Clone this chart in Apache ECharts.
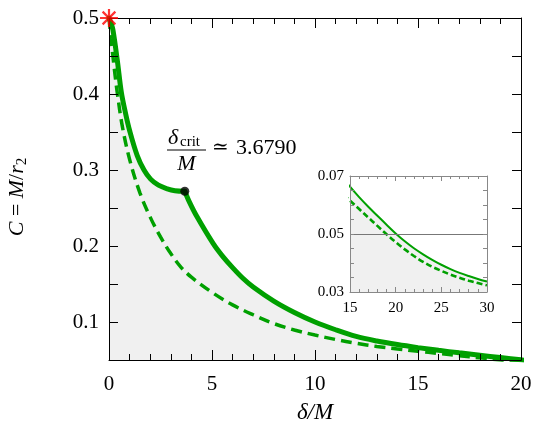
<!DOCTYPE html>
<html><head><meta charset="utf-8">
<script src="https://cdn.jsdelivr.net/npm/echarts@6/dist/echarts.min.js"></script>
<style>html,body{margin:0;padding:0;background:#fff}#c{width:540px;height:432px}</style>
</head><body><div id="c"></div>
<script>
// Solid curve, branch before the critical point
const solidA = [[0,0.5],[0.1,0.493],[0.19,0.4845],[0.4,0.445],[0.6,0.402],[0.8,0.375],[1.0,0.352],[1.37,0.319],[1.7,0.300],[2.02,0.288],[2.4,0.280],[2.83,0.2752],[3.2,0.2728],[3.679,0.272]];
// Solid curve, branch after the critical point
const solidB = [[3.679,0.272],[3.9,0.258],[4.26,0.239],[5.06,0.203],[5.5,0.187],[6.0,0.1715],[6.5,0.1575],[7.0,0.146],[8.0,0.1275],[9.0,0.1125],[10.0,0.100],[11.0,0.0898],[12.0,0.081],[13.0,0.075],[14.0,0.0703],[15.0,0.0663],[16.0,0.0627],[17.0,0.0594],[18.0,0.0563],[19.0,0.0532],[20.0,0.0502],[21,0.0475],[22,0.0451],[23,0.043],[24,0.0411],[25,0.0394],[26,0.0379],[27,0.0366],[28,0.0355],[29,0.0345],[30,0.0336]];
// Dashed curve
const dashed = [[0,0.5],[0.1,0.473],[0.25,0.435],[0.4,0.402],[0.65,0.357],[1.0,0.314],[1.5,0.270],[2.0,0.238],[2.5,0.212],[3.0,0.190],[3.5,0.172],[4.0,0.159],[5.0,0.139],[6.0,0.1225],[7.0,0.1095],[8.0,0.098],[9.0,0.0895],[10.0,0.0828],[11.0,0.077],[12.0,0.072],[13.0,0.0678],[14.0,0.0645],[15.0,0.0615],[16.0,0.0586],[17.0,0.0557],[18.0,0.0528],[19.0,0.0499],[20.0,0.0472],[21,0.0447],[22,0.0424],[23,0.0404],[24,0.0387],[25,0.0373],[26,0.036],[27,0.0349],[28,0.0339],[29,0.0331],[30,0.0323]];
const critPoint = [[3.679,0.272]];
const starPoint = [[0,0.5]];
const mainYLabels = [0.1,0.2,0.3,0.4,0.5];
const insetYLabels = [0.03,0.05,0.07];
const insetRef = 0.05;

const SERIF = '"Liberation Serif", "DejaVu Serif", serif';
const GREEN = '#00a000';
const SM = 0.35;
const chart = echarts.init(document.getElementById('c'), null, {renderer:'canvas'});

function mkX(grid, pos, min, max, interval, showLabel, color, tickLen, minorLen, fs, margin){
  return {type:'value', gridIndex:grid, position:pos, min:min, max:max, interval:interval, z:10,
    axisLine:{show:true, onZero:false, lineStyle:{color:color, width:1}},
    axisTick:{show:true, inside:true, length:tickLen, lineStyle:{color:color}},
    minorTick:{show:true, splitNumber:5, length:minorLen, lineStyle:{color:color}},
    splitLine:{show:false}, minorSplitLine:{show:false},
    axisLabel:{show:showLabel, fontFamily:SERIF, fontSize:fs, color:'#000', margin:margin}};
}
function mkY(grid, pos, min, max, interval, showLabel, color, tickLen, labels, fs, margin){
  return {type:'value', gridIndex:grid, position:pos, min:min, max:max, interval:interval, z:10,
    axisLine:{show:true, onZero:false, lineStyle:{color:color, width:1}},
    axisTick:{show:true, inside:true, length:tickLen, lineStyle:{color:color}},
    splitLine:{show:false},
    axisLabel:{show:showLabel, fontFamily:SERIF, fontSize:fs, color:'#000', margin:margin,
      formatter:function(v){
        for (const l of labels){ if (Math.abs(v-l)<1e-6) return String(l); }
        return '';
      }}};
}

const option = {
  animation:false,
  backgroundColor:'#fff',
  grid:[
    {left:109, top:18, width:412, height:342},
    {left:350, top:176, width:137, height:116}
  ],
  xAxis:[
    mkX(0,'bottom',0,20,5,true,'#000',10,6,21,14),
    mkX(0,'top',0,20,5,false,'#000',10,6,21,14),
    mkX(1,'bottom',15,30,5,true,'#888',5,3,15,9),
    mkX(1,'top',15,30,5,false,'#888',5,3,15,9)
  ],
  yAxis:[
    mkY(0,'left',0.05,0.5,0.05,true,'#000',9,mainYLabels,21,10),
    mkY(0,'right',0.05,0.5,0.05,false,'#000',9,mainYLabels,21,10),
    mkY(1,'left',0.03,0.07,0.005,true,'#888',4,insetYLabels,15,6),
    mkY(1,'right',0.03,0.07,0.005,false,'#888',4,insetYLabels,15,6)
  ],
  series:[
    {type:'line', xAxisIndex:0, yAxisIndex:0, data:solidA.concat(solidB.slice(1)), smooth:SM,
      showSymbol:false, symbol:'none', lineStyle:{width:0}, areaStyle:{color:'#f0f0f0', origin:'start', opacity:1}, z:1, silent:true},
    {type:'line', xAxisIndex:0, yAxisIndex:0, data:dashed, smooth:SM, symbol:'none',
      lineStyle:{color:GREEN, width:3.5, type:[11,6]}, z:3},
    {type:'line', xAxisIndex:0, yAxisIndex:0, data:solidA, smooth:SM, symbol:'none',
      lineStyle:{color:GREEN, width:5, cap:'round'}, z:4},
    {type:'line', xAxisIndex:0, yAxisIndex:0, data:solidB, smooth:SM, symbol:'none',
      lineStyle:{color:GREEN, width:5, cap:'round'}, z:4},
    {type:'scatter', xAxisIndex:0, yAxisIndex:0, data:critPoint, symbol:'circle', symbolSize:9,
      itemStyle:{color:'#000'}, z:6},
    {type:'scatter', xAxisIndex:0, yAxisIndex:0, data:starPoint, clip:false,
      symbol:'path://M10,0L10,20M0,10L20,10M2.9,2.9L17.1,17.1M2.9,17.1L17.1,2.9', symbolSize:18,
      itemStyle:{color:'none', borderColor:'#ff0000', borderWidth:2.2}, z:12},
    // inset
    {type:'line', xAxisIndex:2, yAxisIndex:2, data:solidB, smooth:SM,
      symbol:'none', lineStyle:{width:0}, areaStyle:{color:'#f0f0f0', origin:'start', opacity:1}, z:1, silent:true,
      markLine:{silent:true, symbol:'none', label:{show:false}, lineStyle:{color:'#777', width:1, type:'solid'},
        data:[{yAxis:insetRef}]}},
    {type:'line', xAxisIndex:2, yAxisIndex:2, data:dashed, smooth:SM, symbol:'none',
      lineStyle:{color:GREEN, width:2.6, type:[6,3]}, z:3},
    {type:'line', xAxisIndex:2, yAxisIndex:2, data:solidB, smooth:SM, symbol:'none',
      lineStyle:{color:GREEN, width:2}, z:4}
  ],
  graphic:[
    {type:'text', x:17, y:197, rotation:Math.PI/2,
      style:{text:'{i|C}{n| = }{i|M}{n|/}{i|r}{s|2}', align:'center', verticalAlign:'middle',
        rich:{i:{fontFamily:SERIF, fontStyle:'italic', fontSize:22, fill:'#000'},
              n:{fontFamily:SERIF, fontSize:22, fill:'#000'},
              s:{fontFamily:SERIF, fontSize:15, fill:'#000', padding:[10,0,0,0]}}}},
    {type:'text', x:315, y:413,
      style:{text:'δ/M', fontFamily:SERIF, fontStyle:'italic', fontSize:23, fill:'#000', align:'center', verticalAlign:'middle'}},
    {type:'text', x:168, y:138,
      style:{text:'δ', fontFamily:SERIF, fontStyle:'italic', fontSize:22, fill:'#000', align:'left', verticalAlign:'middle'}},
    {type:'text', x:180, y:142,
      style:{text:'crit', fontFamily:SERIF, fontSize:15, fill:'#000', align:'left', verticalAlign:'middle'}},
    {type:'line', shape:{x1:167, y1:150, x2:206, y2:150}, style:{stroke:'#000', lineWidth:1}},
    {type:'text', x:186.5, y:164,
      style:{text:'M', fontFamily:SERIF, fontStyle:'italic', fontSize:22, fill:'#000', align:'center', verticalAlign:'middle'}},
    {type:'text', x:212, y:148,
      style:{text:'≃', fontFamily:'"DejaVu Serif", serif', fontSize:20, fill:'#000', align:'left', verticalAlign:'middle'}},
    {type:'text', x:236, y:148,
      style:{text:'3.6790', fontFamily:SERIF, fontSize:22, fill:'#000', align:'left', verticalAlign:'middle'}}
  ]
};
chart.setOption(option);
</script></body></html>
